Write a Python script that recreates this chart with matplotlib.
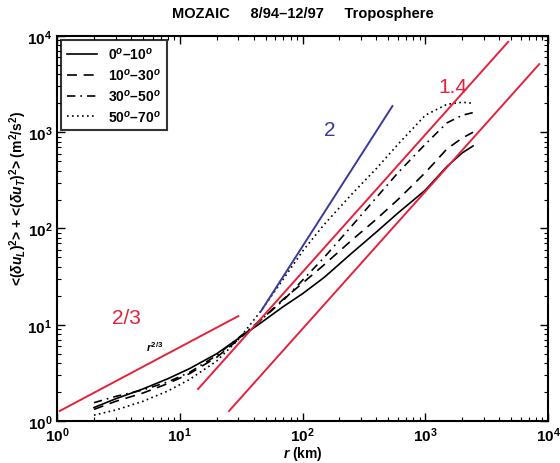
"""MOZAIC structure functions, troposphere (matplotlib)."""

import matplotlib

matplotlib.use("Agg")
import matplotlib.pyplot as plt

plt.rcParams["font.family"] = ["Liberation Sans", "DejaVu Sans"]
plt.rcParams["mathtext.fontset"] = "custom"
plt.rcParams["mathtext.rm"] = "Liberation Sans:bold"
plt.rcParams["mathtext.it"] = "Liberation Sans:bold:italic"
plt.rcParams["mathtext.bf"] = "Liberation Sans:bold"

# separation distance r (km)
r_km = [2, 3, 5, 8, 12, 20, 30, 45, 70, 100, 150, 250, 400, 600, 1000, 1500, 2000, 2450]

# latitude bands
labels = ["0$^o$–10$^o$", "10$^o$–30$^o$", "30$^o$–50$^o$", "50$^o$–70$^o$"]
sf_0_10 = [1.38, 1.7, 2.15, 2.75, 3.5, 5.0, 7.2, 10.3, 15.5, 21, 31, 55, 92, 145, 250, 440, 610, 720]
sf_10_30 = [1.32, 1.6, 1.95, 2.45, 3.1, 4.6, 7.0, 11, 18.5, 27, 42, 75, 125, 200, 380, 670, 870, 1000]
sf_30_50 = [1.55, 1.8, 2.1, 2.55, 3.2, 4.8, 7.3, 11, 18, 29, 50, 105, 210, 380, 750, 1250, 1500, 1600]
sf_50_70 = [1.15, 1.3, 1.6, 2.05, 2.7, 4.2, 7.0, 13.5, 30, 58, 110, 225, 420, 750, 1500, 1950, 2050, 2000]
styles = ["-", (0, (6, 4)), (0, (5, 3, 1, 3)), (0, (1, 2))]

# reference power-law lines: endpoints (r, value)
line_23_r = [1.05, 30]
line_23_v = [1.27, 12.3]
line_2_r = [46, 540]
line_2_v = [13.9, 1870]
line_14a_r = [14.1, 4740]
line_14a_v = [2.15, 8700]
line_14b_r = [25.2, 8480]
line_14b_v = [1.27, 5100]

RED = "#e4223c"
BLUE = "#3a3a9a"

fig = plt.figure(figsize=(5.6, 4.64), dpi=100)
ax = fig.add_axes([0.1018, 0.0905, 0.8768, 0.8298])
ax.set_xscale("log")
ax.set_yscale("log")
ax.set_xlim(1, 1e4)
ax.set_ylim(1, 1e4)

for vals, ls, lab in zip([sf_0_10, sf_10_30, sf_30_50, sf_50_70], styles, labels):
    ax.plot(r_km, vals, color="black", ls=ls, lw=1.2, label=lab)

ax.plot(line_23_r, line_23_v, color=RED, lw=1.4)
ax.plot(line_14a_r, line_14a_v, color=RED, lw=1.4)
ax.plot(line_14b_r, line_14b_v, color=RED, lw=1.4)
ax.plot(line_2_r, line_2_v, color=BLUE, lw=1.4)

ax.text(3.7, 12, "2/3", color=RED, fontsize=15, ha="center", va="center")
ax.text(168, 1080, "2", color=BLUE, fontsize=15, ha="center", va="center")
ax.text(1690, 3000, "1.4", color=RED, fontsize=15, ha="center", va="center")
ax.text(6.3, 6.0, "$r^{2/3}$", color="black", fontsize=8, ha="center", va="center")

ax.set_title("MOZAIC     8/94–12/97     Troposphere", fontsize=10.5, fontweight="bold", pad=14)
ax.set_xlabel("$r$ (km)", fontsize=10, fontweight="bold", labelpad=0)
ax.set_ylabel(r"<($\delta u_L$)$^2$> + <($\delta u_T$)$^2$> (m$^2$/s$^2$)",
              fontsize=10, fontweight="bold")
ax.yaxis.set_label_coords(-0.058, 0.58)

ax.tick_params(which="both", direction="in", top=True, right=True)
ax.tick_params(which="major", length=6, width=1, labelsize=11)
ax.tick_params(which="minor", length=3, width=0.8)
for lab in ax.get_xticklabels() + ax.get_yticklabels():
    lab.set_fontweight("bold")
for sp in ax.spines.values():
    sp.set_linewidth(1.5)

leg = ax.legend(loc="upper left", frameon=True, fancybox=False,
                edgecolor="black", handlelength=2.2, borderaxespad=0.3,
                labelspacing=0.35, prop={"weight": "bold", "size": 10})
leg.get_frame().set_linewidth(1.5)

fig.savefig("out.png", dpi=100)
